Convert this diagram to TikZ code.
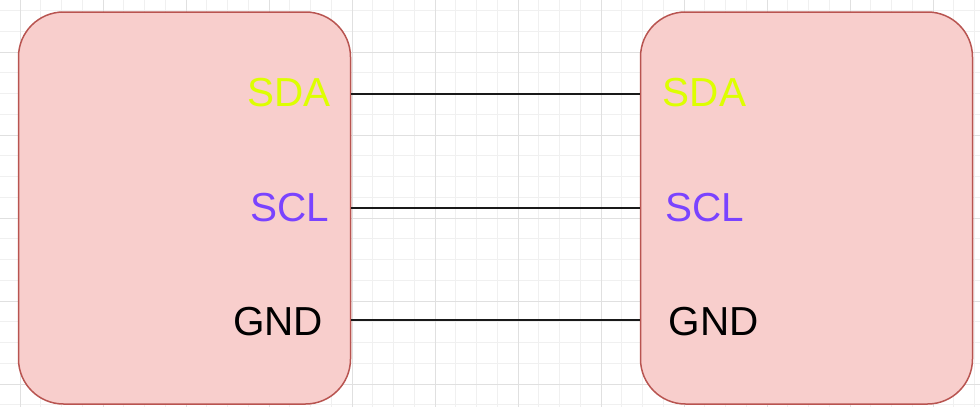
\documentclass[tikz,border=0pt]{standalone}
\usepackage{fontspec}
\setmainfont{Liberation Sans}
\usepackage{xcolor}
\usepackage{tikz}
\usetikzlibrary{positioning}
\definecolor{boardfill}{HTML}{F8CECC}
\definecolor{boarddraw}{HTML}{B85450}
\definecolor{sdacol}{RGB}{221,255,0}
\definecolor{sclcol}{RGB}{122,67,255}
\tikzset
{
  board/.style    = {rectangle, rounded corners=45pt, draw=boarddraw, fill=boardfill, line width=1.5pt, minimum width=332pt, minimum height=392pt},
  pinlabel/.style = {inner sep=0pt, font=\fontsize{40.5}{44}\selectfont},
  wire/.style     = {draw=black!90, line width=2pt},
  minorgrid/.style = {draw=black!6, line width=0.8pt},
  majorgrid/.style = {draw=black!12, line width=0.8pt}
}
\begin{document}
\begin{tikzpicture}[x=1pt,y=-1pt]
            \useasboundingbox (0,0) rectangle (980,407);
            % background grid
            \foreach \i in {0,...,46}
              \draw[minorgrid] ({20+20.75*\i},0) -- ({20+20.75*\i},407);
            \foreach \j in {0,...,19}
              \draw[minorgrid] (0,{10.5+20.75*\j}) -- (980,{10.5+20.75*\j});
            \foreach \i in {0,...,11}
              \draw[majorgrid] ({20+83*\i},0) -- ({20+83*\i},407);
            \foreach \j in {0,...,4}
              \draw[majorgrid] (0,{52+83*\j}) -- (980,{52+83*\j});
            % the two boards
            \node [board] (master) at (184.5,208) {};
            \node [board] (slave) at (806.5,208) {};
            % pin labels
            \node [pinlabel, text=sdacol] (msda) at (289,92.5) {SDA};
            \node [pinlabel, text=sclcol] (mscl) at (289.5,208) {SCL};
            \node [pinlabel] (mgnd) at (278,322) {GND};
            \node [pinlabel, text=sdacol] (ssda) at (704.5,92.5) {SDA};
            \node [pinlabel, text=sclcol] (sscl) at (704.5,208) {SCL};
            \node [pinlabel] (sgnd) at (713.5,322) {GND};
            % bus lines
            \coordinate (bsda) at (0,93.5);
            \coordinate (bscl) at (0,207.5);
            \coordinate (bgnd) at (0,320);
            \draw [wire] (master.east |- bsda) -- (slave.west |- bsda);
            \draw [wire] (master.east |- bscl) -- (slave.west |- bscl);
            \draw [wire] (master.east |- bgnd) -- (slave.west |- bgnd);
          \end{tikzpicture}
\end{document}
